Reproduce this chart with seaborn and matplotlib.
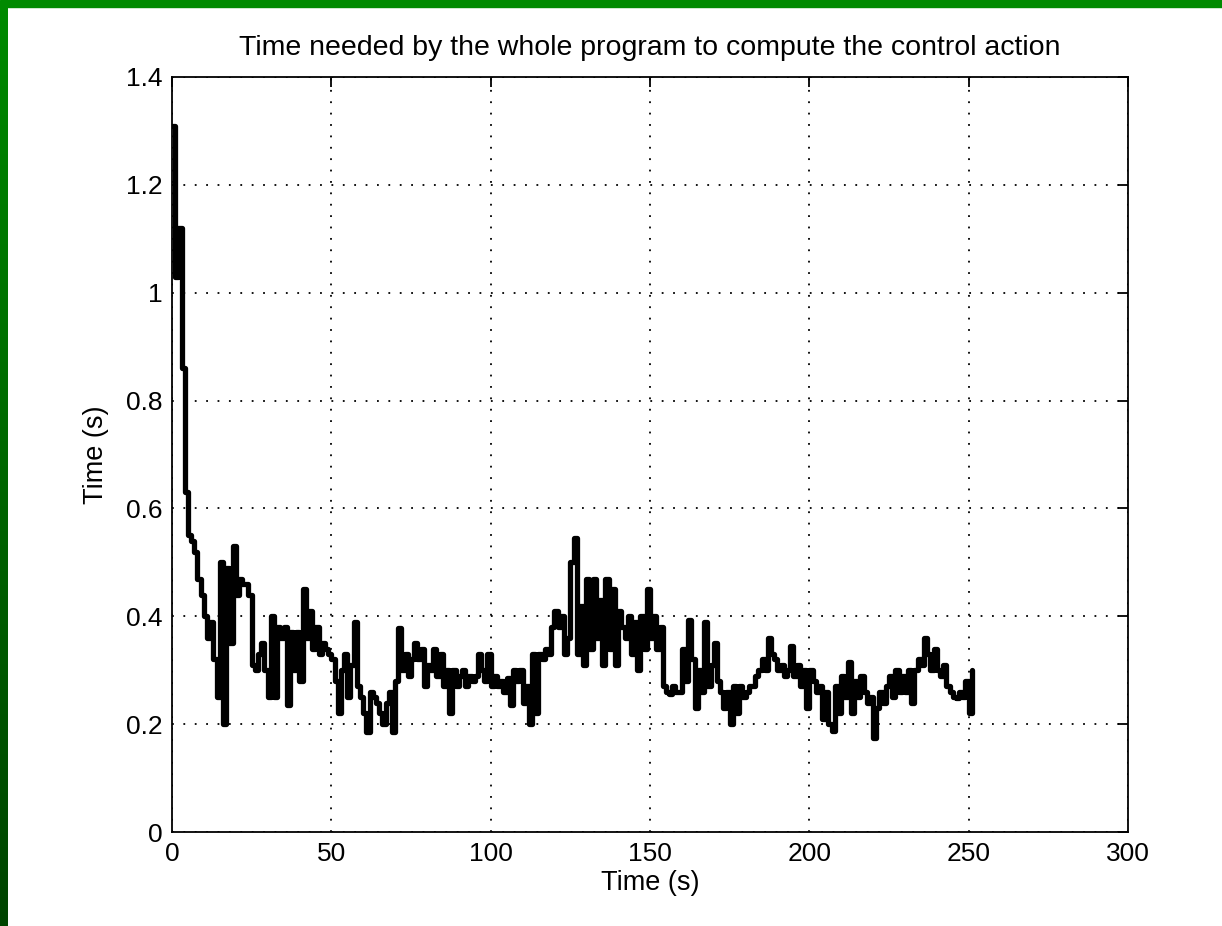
import numpy as np
import pandas as pd
import matplotlib
matplotlib.use('Agg')
import matplotlib.pyplot as plt
import seaborn as sns
from matplotlib.patches import Rectangle

# control-action computation time (one sample per second)
comp_time = [
    1.31, 1.03, 1.12, 0.86, 0.63, 0.55, 0.54, 0.52, 0.47, 0.44,
    0.40, 0.36, 0.39, 0.32, 0.25, 0.50, 0.20, 0.49, 0.35, 0.53,
    0.44, 0.47, 0.46, 0.46, 0.44, 0.31, 0.30, 0.33, 0.35, 0.30,
    0.25, 0.40, 0.25, 0.38, 0.36, 0.38, 0.235, 0.37, 0.30, 0.37,
    0.28, 0.45, 0.36, 0.41, 0.34, 0.38, 0.33, 0.35, 0.34, 0.33,
    0.32, 0.28, 0.22, 0.30, 0.33, 0.25, 0.31, 0.39, 0.27, 0.25,
    0.22, 0.185, 0.26, 0.25, 0.24, 0.22, 0.20, 0.24, 0.26, 0.185,
    0.28, 0.378, 0.30, 0.33, 0.29, 0.32, 0.35, 0.32, 0.34, 0.27,
    0.31, 0.30, 0.34, 0.29, 0.33, 0.27, 0.30, 0.22, 0.30, 0.27,
    0.29, 0.30, 0.27, 0.29, 0.28, 0.29, 0.33, 0.30, 0.28, 0.33,
    0.27, 0.29, 0.27, 0.28, 0.26, 0.285, 0.235, 0.30, 0.28, 0.30,
    0.24, 0.27, 0.20, 0.33, 0.22, 0.33, 0.32, 0.34, 0.33, 0.38,
    0.41, 0.38, 0.40, 0.33, 0.36, 0.50, 0.545, 0.33, 0.42, 0.31,
    0.47, 0.34, 0.47, 0.36, 0.43, 0.31, 0.47, 0.34, 0.45, 0.31,
    0.41, 0.38, 0.36, 0.40, 0.33, 0.39, 0.30, 0.40, 0.34, 0.45,
    0.36, 0.40, 0.34, 0.38, 0.27, 0.26, 0.255, 0.27, 0.26, 0.26,
    0.34, 0.28, 0.393, 0.32, 0.23, 0.30, 0.26, 0.39, 0.27, 0.31,
    0.35, 0.28, 0.26, 0.23, 0.26, 0.20, 0.27, 0.22, 0.27, 0.25,
    0.26, 0.27, 0.27, 0.29, 0.30, 0.32, 0.30, 0.36, 0.33, 0.32,
    0.30, 0.31, 0.29, 0.30, 0.344, 0.29, 0.31, 0.27, 0.30, 0.23,
    0.30, 0.28, 0.26, 0.27, 0.21, 0.26, 0.20, 0.187, 0.27, 0.22,
    0.29, 0.25, 0.316, 0.22, 0.28, 0.25, 0.29, 0.26, 0.24, 0.25,
    0.174, 0.23, 0.26, 0.24, 0.27, 0.29, 0.25, 0.30, 0.26, 0.29,
    0.26, 0.30, 0.24, 0.30, 0.32, 0.31, 0.36, 0.33, 0.30, 0.34,
    0.30, 0.29, 0.31, 0.27, 0.26, 0.25, 0.248, 0.26, 0.25, 0.28,
    0.22, 0.30,
]
sim_time = list(range(len(comp_time)))

x_ticks = [0, 50, 100, 150, 200, 250, 300]
y_ticks = [0, 0.2, 0.4, 0.6, 0.8, 1.0, 1.2, 1.4]
y_labels = ['0', '0.2', '0.4', '0.6', '0.8', '1', '1.2', '1.4']

df = pd.DataFrame({'t': sim_time, 'dt': comp_time})

sns.set_style('white')
plt.rcParams['font.family'] = ['Liberation Sans', 'DejaVu Sans']
plt.rcParams['lines.scale_dashes'] = False
plt.rcParams['text.color'] = 'black'
plt.rcParams['axes.labelcolor'] = 'black'

fig = plt.figure(figsize=(12.22, 9.26), dpi=100)
fig.patch.set_facecolor('white')

# green slide frame (top bar + left bar with darkening gradient)
fig.patches.append(Rectangle((0, 1 - 7 / 926), 1, 7 / 926, transform=fig.transFigure,
                             color='#008a00', zorder=0))
bar = fig.add_axes([0, 0, 8 / 1222, 1 - 7 / 926])
grad = np.linspace(0, 1, 256).reshape(-1, 1)
bar.imshow(grad, aspect='auto', cmap=matplotlib.colors.LinearSegmentedColormap.from_list(
    'g', ['#008a00', '#004400']))
bar.axis('off')

ax = fig.add_axes([172 / 1222, 1 - 832 / 926, (1128 - 172) / 1222, (832 - 77) / 926])
sns.lineplot(data=df, x='t', y='dt', ax=ax, color='black', linewidth=3.8,
             drawstyle='steps-post', estimator=None)

ax.set_xlim(0, 300)
ax.set_ylim(0, 1.4)
ax.set_xticks(x_ticks)
ax.set_yticks(y_ticks)
ax.set_yticklabels(y_labels)
ax.grid(True, color='black', linestyle=(0, (1.3, 6.9)), linewidth=1.3)
ax.tick_params(direction='in', length=7, width=1.3, top=True, right=True,
               labelsize=19, colors='black', pad=7)
for s in ax.spines.values():
    s.set_visible(True)
    s.set_linewidth(1.3)
    s.set_color('black')

ax.set_title('Time needed by the whole program to compute the control action',
             fontsize=20.5, pad=16, color='black')
ax.set_xlabel('Time (s)', fontsize=19.5, labelpad=3)
ax.set_ylabel('Time (s)', fontsize=19.5, labelpad=12)

fig.savefig('out.png', dpi=100)
